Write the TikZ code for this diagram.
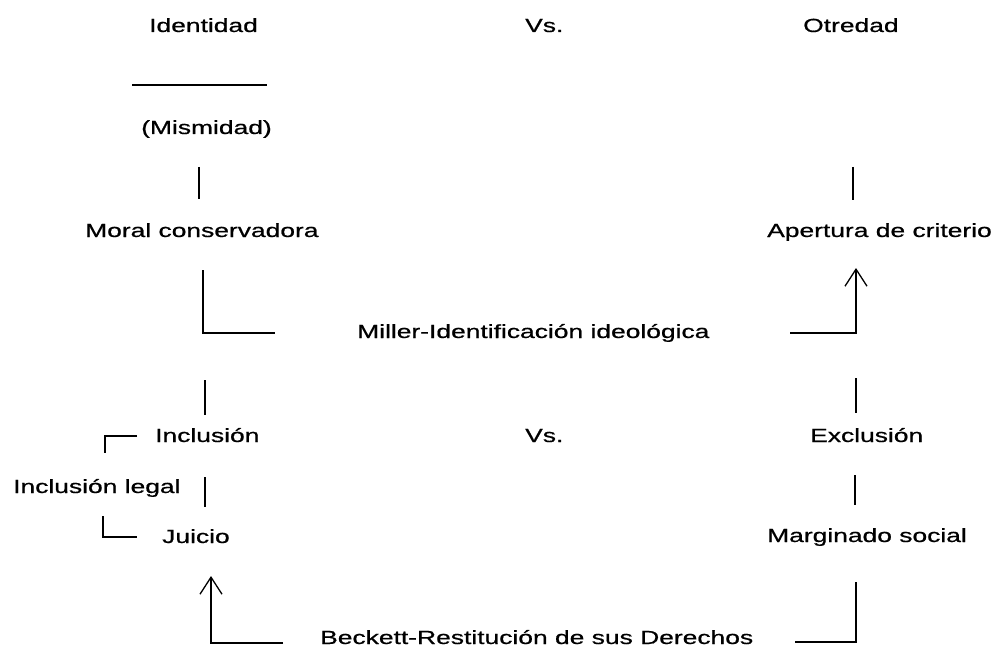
\documentclass[tikz,border=0pt]{standalone}
\usepackage{fontspec}
\setmainfont{Liberation Sans}[FakeBold=0.6]
\usetikzlibrary{arrows.meta}
\newcommand{\wide}[1]{\scalebox{1.39}[1]{#1}}
\begin{document}
\begin{tikzpicture}[x=1pt,y=-1pt,
  lbl/.style={anchor=base west,inner sep=0pt,font=\fontsize{19}{22}\selectfont},
  ln/.style={line width=1.3pt,black},
  upar/.style={ln,-{Straight Barb[length=17pt,width=22pt,line width=1.3pt]}}]
\useasboundingbox (0,0) rectangle (998,647);
% texts
\node[lbl] (iden) at (149,32) {\wide{Identidad}};
\node[lbl] (vs1) at (525,32) {\wide{Vs.}};
\node[lbl] (otre) at (803,32) {\wide{Otredad}};
\node[lbl] (mism) at (141,134) {\wide{(Mismidad)}};
\node[lbl] (moral) at (85,237) {\wide{Moral conservadora}};
\node[lbl] (apert) at (767,237) {\wide{Apertura de criterio}};
\node[lbl] (miller) at (357,338) {\wide{Miller-Identificación ideológica}};
\node[lbl] (incl) at (155,442) {\wide{Inclusión}};
\node[lbl] (vs2) at (525,442) {\wide{Vs.}};
\node[lbl] (excl) at (810,442) {\wide{Exclusión}};
\node[lbl] (legal) at (13,493) {\wide{Inclusión legal}};
\node[lbl] (juic) at (162,543) {\wide{Juicio}};
\node[lbl] (marg) at (767,542) {\wide{Marginado social}};
\node[lbl] (beck) at (320,644) {\wide{Beckett-Restitución de sus Derechos}};
% connector end points
\coordinate (u1) at (132,85);   \coordinate (u2) at (267,85);
\coordinate (a1) at (199,167);  \coordinate (a2) at (199,199);
\coordinate (b1) at (853,167);  \coordinate (b2) at (853,200);
\coordinate (c1) at (203,270);  \coordinate (c2) at (203,333); \coordinate (c3) at (275,333);
\coordinate (d1) at (790,333);  \coordinate (d2) at (856,333); \coordinate (d3) at (856,268);
\coordinate (e1) at (205,380);  \coordinate (e2) at (205,415);
\coordinate (f1) at (856,378);  \coordinate (f2) at (856,413);
\coordinate (g1) at (137,436);  \coordinate (g2) at (105,436); \coordinate (g3) at (105,453);
\coordinate (h1) at (205,477);  \coordinate (h2) at (205,507);
\coordinate (i1) at (855,475);  \coordinate (i2) at (855,505);
\coordinate (k1) at (103,516);  \coordinate (k2) at (103,537); \coordinate (k3) at (137,537);
\coordinate (m1) at (283,643);  \coordinate (m2) at (211,643); \coordinate (m3) at (211,576);
\coordinate (n1) at (795,642);  \coordinate (n2) at (856,642); \coordinate (n3) at (856,582);
% lines
\draw[ln] (u1) -- (u2);
\draw[ln] (a1) -- (a2);
\draw[ln] (b1) -- (b2);
\draw[ln] (c1) -- (c2) -- (c3);
\draw[upar] (d1) -- (d2) -- (d3);
\draw[ln] (e1) -- (e2);
\draw[ln] (f1) -- (f2);
\draw[ln] (g1) -- (g2) -- (g3);
\draw[ln] (h1) -- (h2);
\draw[ln] (i1) -- (i2);
\draw[ln] (k1) -- (k2) -- (k3);
\draw[upar] (m1) -- (m2) -- (m3);
\draw[ln] (n1) -- (n2) -- (n3);
\end{tikzpicture}
\end{document}
